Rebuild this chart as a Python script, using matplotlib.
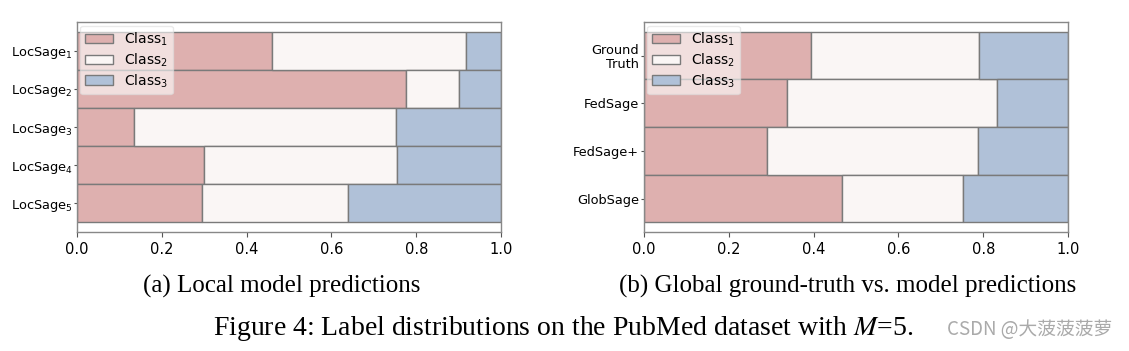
import numpy as np
import matplotlib.pyplot as plt

# label distributions
local_names = ['LocSage$_1$', 'LocSage$_2$', 'LocSage$_3$', 'LocSage$_4$', 'LocSage$_5$']
local_c1 = [0.459, 0.776, 0.135, 0.300, 0.295]
local_c2 = [0.458, 0.124, 0.618, 0.454, 0.344]
local_c3 = [0.083, 0.100, 0.247, 0.246, 0.361]

global_names = ['Ground\nTruth', 'FedSage', 'FedSage+', 'GlobSage']
global_c1 = [0.393, 0.338, 0.291, 0.466]
global_c2 = [0.398, 0.494, 0.496, 0.286]
global_c3 = [0.209, 0.168, 0.213, 0.248]

class_labels = ['Class$_1$', 'Class$_2$', 'Class$_3$']
colors = ['#DEB0AF', '#FAF6F5', '#B0C1D8']
edge = '#7a7a7a'


def stacked(ax, names, c1, c2, c3):
    y = np.arange(len(names))
    left = np.zeros(len(names))
    for vals, lab, col in zip([c1, c2, c3], class_labels, colors):
        ax.barh(y, vals, height=1.0, left=left, color=col, edgecolor=edge,
                linewidth=1.0, label=lab)
        left = left + np.array(vals)
    ax.set_yticks(y)
    ax.set_yticklabels(names, fontsize=9.3, linespacing=1.1)
    ax.invert_yaxis()
    ax.set_xlim(0, 1.0)
    ax.set_xticks([0.0, 0.2, 0.4, 0.6, 0.8, 1.0])
    ax.tick_params(axis='x', labelsize=10.5, length=3.5, color='#555555')
    ax.tick_params(axis='y', length=2, pad=1.5, color='#555555')
    for s in ax.spines.values():
        s.set_edgecolor('#888888')
        s.set_linewidth(1.0)
    leg = ax.legend(loc=2, fontsize=10, framealpha=0.6, fancybox=True,
                    borderaxespad=0.25, handlelength=2.0, labelspacing=0.25,
                    borderpad=0.35)
    leg.get_frame().set_edgecolor('#dddddd')


fig = plt.figure(figsize=(11.29, 3.51), dpi=100)
ax1 = fig.add_axes([0.0682, 0.339, 0.3756, 0.598])
ax2 = fig.add_axes([0.5704, 0.339, 0.3756, 0.598])
stacked(ax1, local_names, local_c1, local_c2, local_c3)
stacked(ax2, global_names, global_c1, global_c2, global_c3)

serif = 'Liberation Serif'
fig.text(0.2493, 0.185, '(a) Local model predictions', family=serif,
         fontsize=18, ha='center', va='center')
fig.text(0.7507, 0.185, '(b) Global ground-truth vs. model predictions',
         family=serif, fontsize=18, ha='center', va='center')
fig.text(0.499, 0.064, 'Figure 4: Label distributions on the PubMed dataset with $M$=5.',
         family=serif, fontsize=20, ha='center', va='center',
         math_fontfamily='stix')
fig.text(0.912, 0.062, 'CSDN @大菠菠菠萝', family=['Noto Sans CJK SC', 'DejaVu Sans'],
         fontsize=13.5, color='#aaaaaa', ha='center', va='center')

fig.savefig('out.png', dpi=100)
